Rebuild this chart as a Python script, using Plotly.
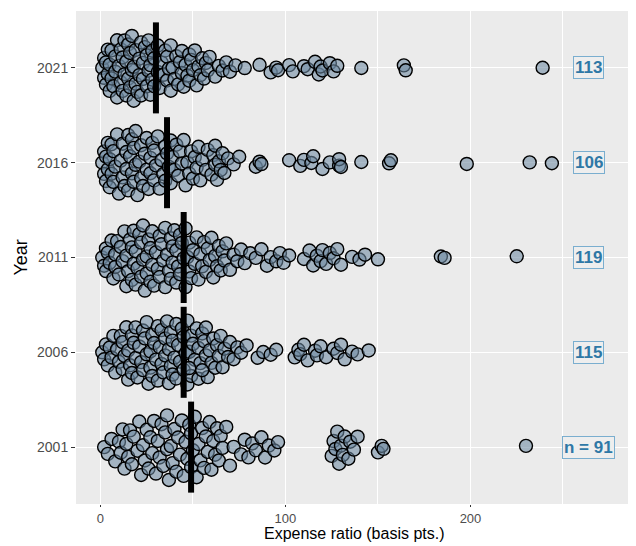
import numpy as np
import plotly.graph_objects as go

years = ["2001", "2006", "2011", "2016", "2021"]

er_2001 = [2, 4, 6, 8, 10,
           11, 12, 13, 14, 15, 16, 17, 18, 20,
           21, 22, 23, 24, 25, 26, 27, 28, 29, 30,
           31, 32, 33, 34, 35, 36, 36, 37, 38, 39, 40,
           41, 42, 43, 44, 45, 46, 47, 48, 49, 49, 50,
           51, 52, 53, 54, 55, 56, 57, 58, 59, 60,
           61, 62, 63, 64, 65, 66, 68, 70, 72,
           76, 78, 80, 82, 84, 87, 89, 91, 94, 96,
           125, 126, 127, 128, 129, 130, 131, 132, 134, 135, 137, 139, 150, 152, 153,
           230]

er_2006 = [1, 2, 3, 4, 5, 6, 7, 8, 9, 10,
           11, 12, 12, 13, 14, 15, 15, 16, 17, 17, 18, 19, 19, 20,
           21, 22, 23, 23, 24, 25, 25, 26, 27, 27, 28, 28, 29, 30,
           31, 31, 32, 33, 33, 34, 35, 35, 36, 37, 37, 38, 38, 39, 39, 40,
           41, 41, 42, 43, 44, 45, 45, 46, 47, 47, 48, 49, 49, 50,
           51, 52, 53, 53, 54, 55, 56, 57, 57, 58, 59, 60, 55, 48,
           61, 62, 63, 64, 65, 66, 67, 69, 70,
           72, 74, 76, 79, 85, 88, 92, 95,
           105, 107, 108, 110, 112, 116, 117, 119, 122, 126, 128, 130, 132, 136, 139, 145]

er_2011 = [1, 2, 3, 3, 4, 5, 6, 7, 8, 8, 9, 10,
           11, 12, 13, 14, 14, 15, 16, 17, 17, 18, 18, 19, 19, 20,
           21, 22, 22, 23, 23, 24, 25, 25, 26, 27, 27, 28, 28, 29, 30,
           31, 32, 32, 33, 34, 35, 35, 36, 37, 38, 38, 39, 39, 40,
           41, 41, 42, 43, 43, 44, 45, 46, 46, 47, 48, 48, 49, 50,
           51, 52, 53, 54, 55, 56, 57, 58, 59, 60,
           61, 62, 63, 64, 65, 66, 67, 68, 70, 72, 74, 76, 78,
           81, 84, 87, 90, 92, 95, 97, 99,
           102, 110, 113, 115, 117, 119, 120, 122, 124, 126, 128, 130,
           136, 140, 143, 150,
           184, 186, 225]

er_2016 = [1, 2, 2, 3, 3, 4, 4, 5, 5, 6, 6, 7, 7, 8, 9, 10,
           11, 12, 12, 13, 14, 14, 15, 15, 16, 17, 17, 18, 18, 19, 19, 20,
           21, 22, 22, 23, 24, 25, 25, 26, 27, 27, 28, 29, 29, 30,
           31, 32, 33, 34, 35, 35, 36, 37, 38, 38, 39, 40,
           41, 42, 43, 44, 45, 46, 47, 48, 49, 50,
           51, 52, 53, 54, 55, 57, 58, 60,
           61, 62, 62, 63, 64, 65, 66, 67, 69, 72, 75,
           84, 86, 87,
           102, 108, 110, 114, 115, 120, 124, 129, 129, 130,
           141, 156, 157, 198, 232, 244]

er_2021 = [1, 2, 2, 3, 3, 4, 4, 5, 5, 6, 6, 7, 8, 8, 9, 9, 10,
           11, 11, 12, 12, 13, 13, 14, 14, 15, 15, 16, 16, 17, 17, 18, 18, 19, 19, 20,
           21, 21, 22, 22, 23, 23, 24, 25, 25, 26, 26, 27, 27, 28, 28, 29, 29,
           31, 31, 32, 33, 34, 35, 36, 36, 37, 38, 38, 39, 40,
           41, 42, 43, 44, 44, 45, 46, 47, 48, 48, 49, 50,
           51, 52, 53, 54, 55, 56, 57, 58, 59,
           62, 64, 66, 68, 70, 73, 78,
           86, 92, 95, 96,
           102, 104, 110, 112, 116, 118, 119, 120, 124, 126, 128,
           141, 164, 165, 239]

series = [er_2001, er_2006, er_2011, er_2016, er_2021]
medians = [49, 45, 45, 36, 30]


def van_der_corput(n):
    out = []
    for k in range(1, n + 1):
        v, denom, q = 0.0, 1.0, k
        while q:
            denom *= 2
            q, r = divmod(q, 2)
            v += r / denom
        out.append(v)
    return np.array(out)


def quasirandom_offsets(vals, width=0.36, adjust=0.5):
    x = np.asarray(vals, dtype=float)
    n = len(x)
    q75, q25 = np.percentile(x, [75, 25])
    bw = 0.9 * min(x.std(ddof=1), (q75 - q25) / 1.34) * n ** -0.2 * adjust
    grid = np.linspace(x.min() - 3 * bw, x.max() + 3 * bw, 512)
    dgrid = np.exp(-0.5 * ((grid[:, None] - x[None, :]) / bw) ** 2).sum(axis=1)
    dens = np.interp(x, grid, dgrid) / dgrid.max()
    ranks = np.argsort(np.argsort(x, kind="stable"), kind="stable")
    vdc = van_der_corput(n)[ranks]
    return (vdc - 0.5) * 2 * width * dens


fig = go.Figure()
for i, vals in enumerate(series):
    off = quasirandom_offsets(vals)
    fig.add_trace(go.Scatter(
        x=vals, y=i + off, mode="markers",
        marker=dict(size=13, color="rgba(110,138,162,0.58)",
                    line=dict(color="black", width=1.4)),
        hovertemplate=years[i] + ": %{x}<extra></extra>", showlegend=False,
    ))

for i, m in enumerate(medians):
    fig.add_trace(go.Scatter(
        x=[m, m], y=[i - 0.48, i + 0.48], mode="lines",
        line=dict(color="black", width=6), showlegend=False, hoverinfo="skip",
    ))

for i, vals in enumerate(series):
    txt = f"n = {len(vals)}" if i == 0 else str(len(vals))
    fig.add_annotation(
        x=264, y=i, text=f"<b>{txt}</b>", showarrow=False,
        font=dict(family="Liberation Sans, Arial", size=17, color="#2f78a6"),
        bgcolor="#eeeeee", bordercolor="#7aaecf", borderwidth=1, borderpad=1,
    )

fig.add_annotation(
    x=0.5, xref="paper", y=0, yref="paper", yanchor="top", yshift=-20,
    text="Expense ratio (basis pts.)", showarrow=False, borderpad=0,
    font=dict(size=16, color="black"),
)
fig.add_annotation(
    x=0, xref="paper", xanchor="center", xshift=-56, y=0.5, yref="paper",
    text="Year", textangle=-90, showarrow=False,
    font=dict(size=18, color="black"),
)

# page body has an 8px default margin: figure sized/placed to compensate
fig.update_layout(
    width=628, height=538,
    margin=dict(l=68, r=4, t=3, b=42),
    paper_bgcolor="white", plot_bgcolor="#ebebeb",
    font=dict(family="Liberation Sans, Arial", color="#4d4d4d", size=14),
    xaxis=dict(
        range=[-13.2, 287.3], tickvals=[0, 100, 200], ticktext=["0", "100", "200"],
        showgrid=True, gridcolor="white", gridwidth=1.2, zeroline=False,
        ticks="outside", ticklen=2, tickcolor="#333333", tickwidth=1,
        tickfont=dict(size=13),
        minor=dict(tickvals=[50, 150, 250], showgrid=True, gridcolor="white", gridwidth=0.5, ticks=""),
        showline=False,
    ),
    yaxis=dict(
        range=[-0.6, 4.6], tickvals=[0, 1, 2, 3, 4], ticktext=years,
        showgrid=True, gridcolor="white", gridwidth=1.2, zeroline=False,
        ticks="outside", ticklen=4, tickcolor="#333333", tickwidth=1,
        showline=False,
    ),
)

fig.write_html("out.html")
